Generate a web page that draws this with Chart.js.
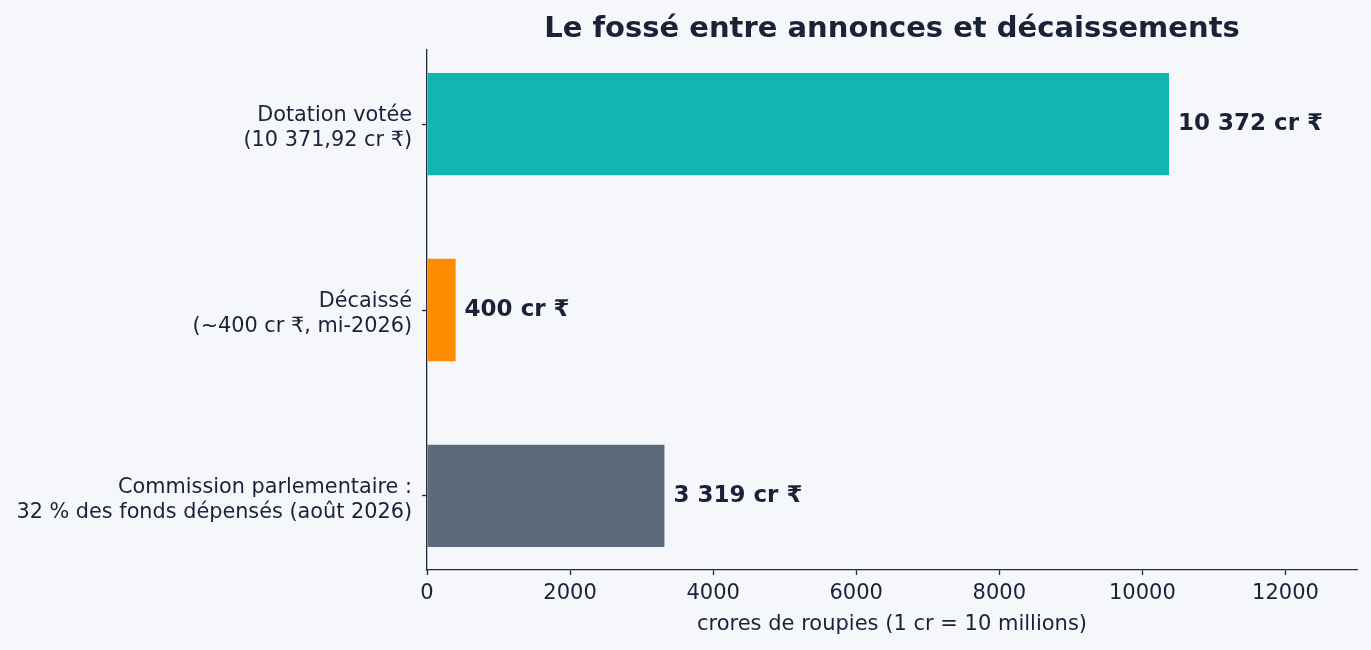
<!DOCTYPE html>
<html lang="fr">
<head>
    <meta charset="UTF-8">
    <title>Le fossé entre annonces et décaissements</title>
    <script src="https://cdn.jsdelivr.net/npm/chart.js"></script>
    <style>
        body {
            margin: 0;
            padding: 0;
            background-color: #f5f7fb;
            font-family: "DejaVu Sans", sans-serif;
        }
        .chart-box {
            width: 1371px;
            height: 650px;
        }
    </style>
</head>
<body>
    <div class="chart-box">
        <canvas id="gapChart"></canvas>
    </div>

    <script>
        // Data
        const categories = [
            ['Dotation votée', '(10 371,92 cr ₹)'],
            ['Décaissé', '(~400 cr ₹, mi-2026)'],
            ['Commission parlementaire :', '32 % des fonds dépensés (août 2026)']
        ];
        const amounts = [10372, 400, 3319];
        const barColors = ['#12b5b0', '#ff8c00', '#5b6b7c'];
        const xTicks = [0, 2000, 4000, 6000, 8000, 10000, 12000];

        const textColor = '#1a2238';
        const axisColor = '#222b3c';

        // formats 10372 -> "10 372 cr ₹"
        function crLabel(v) {
            return String(Math.round(v)).replace(/\B(?=(\d{3})+(?!\d))/g, ' ') + ' cr ₹';
        }

        // Bold value labels at the end of each bar + title centred on the plot
        const decorations = {
            id: 'decorations',
            afterDatasetsDraw(chart) {
                const ctx = chart.ctx;
                const meta = chart.getDatasetMeta(0);
                ctx.save();
                ctx.font = 'bold 23px "DejaVu Sans"';
                ctx.fillStyle = textColor;
                ctx.textAlign = 'left';
                ctx.textBaseline = 'middle';
                meta.data.forEach((bar, i) => {
                    ctx.fillText(crLabel(amounts[i]), bar.x + 9, bar.y);
                });
                ctx.restore();
            },
            afterDraw(chart) {
                const ctx = chart.ctx;
                const area = chart.chartArea;
                ctx.save();
                ctx.font = 'bold 29px "DejaVu Sans"';
                ctx.fillStyle = textColor;
                ctx.textAlign = 'center';
                ctx.textBaseline = 'middle';
                ctx.fillText('Le fossé entre annonces et décaissements', (area.left + area.right) / 2, 29);
                ctx.restore();
            }
        };

        const ctxGap = document.getElementById('gapChart').getContext('2d');
        const gapChart = new Chart(ctxGap, {
            type: 'bar',
            data: {
                datasets: [{
                    data: amounts.map((v, i) => ({ x: v, y: i })),
                    backgroundColor: barColors,
                    borderWidth: 0,
                    categoryPercentage: 1,
                    barPercentage: 0.55
                }]
            },
            options: {
                indexAxis: 'y',
                responsive: true,
                maintainAspectRatio: false,
                animation: false,
                layout: {
                    padding: { top: 50, right: 14, left: 0, bottom: 0 }
                },
                plugins: {
                    legend: { display: false },
                    tooltip: { enabled: false }
                },
                scales: {
                    x: {
                        type: 'linear',
                        min: 0,
                        max: 13000,
                        afterBuildTicks: (scale) => {
                            scale.ticks = xTicks.map(v => ({ value: v }));
                        },
                        afterFit: (scale) => { scale.height = 80; },
                        grid: {
                            drawOnChartArea: false,
                            tickLength: 5,
                            tickWidth: 1.3,
                            tickColor: axisColor
                        },
                        border: { color: axisColor, width: 1.3 },
                        ticks: {
                            color: textColor,
                            padding: 6,
                            maxRotation: 0,
                            font: { family: 'DejaVu Sans', size: 21 },
                            callback: (value) => String(value)
                        },
                        title: {
                            display: true,
                            text: 'crores de roupies (1 cr = 10 millions)',
                            color: textColor,
                            padding: { top: 0, bottom: 13 },
                            font: { family: 'DejaVu Sans', size: 21 }
                        }
                    },
                    y: {
                        type: 'linear',
                        reverse: true,
                        offset: false,
                        min: -0.398,
                        max: 2.398,
                        afterBuildTicks: (scale) => {
                            scale.ticks = categories.map((c, i) => ({ value: i }));
                        },
                        afterFit: (scale) => { scale.width = 427; },
                        grid: {
                            offset: false,
                            drawOnChartArea: false,
                            tickLength: 5,
                            tickWidth: 1.3,
                            tickColor: axisColor
                        },
                        border: { color: axisColor, width: 1.3 },
                        ticks: {
                            color: textColor,
                            padding: 10,
                            labelOffset: 4,
                            autoSkip: false,
                            font: { family: 'DejaVu Sans', size: 20.8, lineHeight: 1.2 },
                            callback: (value) => categories[value]
                        }
                    }
                }
            },
            plugins: [decorations]
        });
    </script>
</body>
</html>
